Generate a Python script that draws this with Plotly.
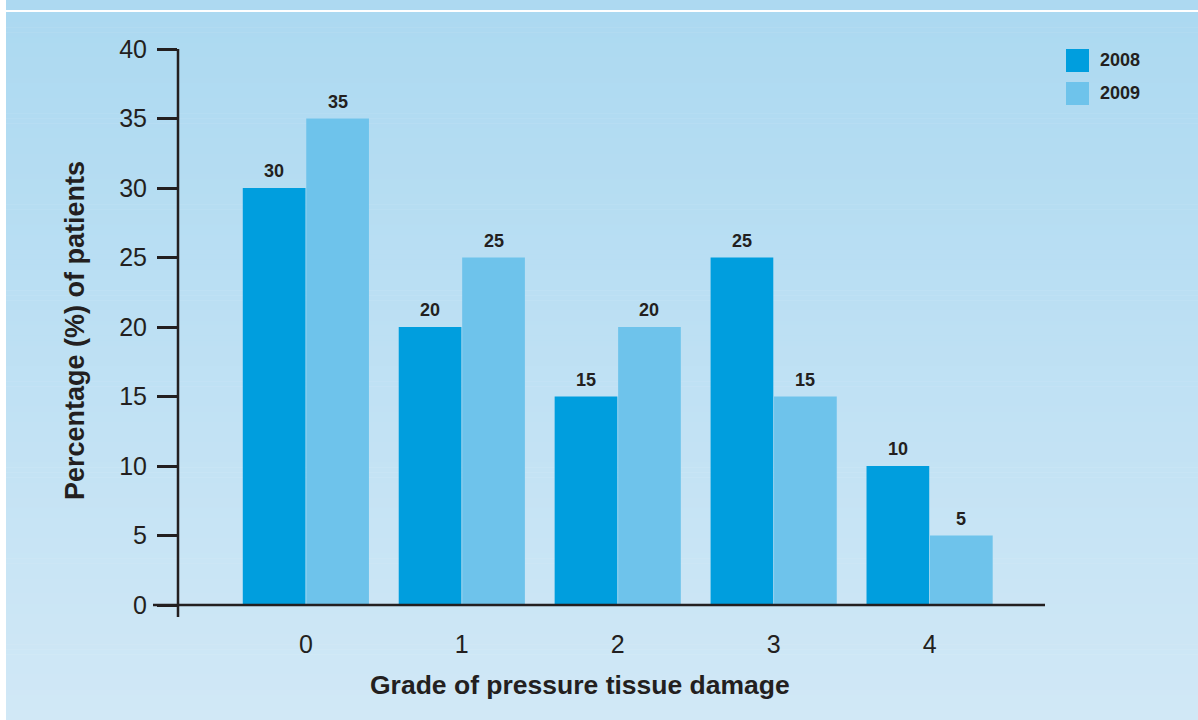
import plotly.graph_objects as go

# Data
grades = [0, 1, 2, 3, 4]
pct_2008 = [30, 20, 15, 25, 10]
pct_2009 = [35, 25, 20, 15, 5]
series_names = ["2008", "2009"]
y_ticks = [0, 5, 10, 15, 20, 25, 30, 35, 40]

# Style
W, H = 1198, 720
L, R, T, B = 178, 153, 49, 115
PW, PH = W - L - R, H - T - B
C2008 = "#009EDE"
C2009 = "#6EC3EB"
INK = "#231F20"
FONT = "Liberation Sans, Arial, Helvetica, sans-serif"
XMIN, XMAX = -0.82, 4.74
BARGAP = 0.186


def px_x(p):
    return (p - L) / PW


def px_y(p):
    return (H - B - p) / PH


fig = go.Figure()
fig.add_trace(go.Bar(x=grades, y=pct_2008, name=series_names[0],
                     marker=dict(color=C2008, line=dict(width=0)),
                     showlegend=False, hoverinfo="skip"))
fig.add_trace(go.Bar(x=grades, y=pct_2009, name=series_names[1],
                     marker=dict(color=C2009, line=dict(width=0)),
                     showlegend=False, hoverinfo="skip"))

shapes = []
# background: white page, top strip, white rule, vertical gradient panel
shapes.append(dict(type="rect", xref="paper", yref="paper", layer="below",
                   x0=px_x(6), x1=px_x(W), y0=px_y(0), y1=px_y(10),
                   fillcolor="#ADD9F1", line=dict(width=0)))
top_rgb = (0xAC, 0xD9, 0xF1)
bot_rgb = (0xD1, 0xE8, 0xF6)
y_start, y_end = 12, H
n_bands = 140
for i in range(n_bands):
    p0 = y_start + (y_end - y_start) * i / n_bands
    p1 = y_start + (y_end - y_start) * (i + 1) / n_bands + 0.6
    t = (i + 0.5) / n_bands
    col = tuple(round(a + (b - a) * t) for a, b in zip(top_rgb, bot_rgb))
    shapes.append(dict(type="rect", xref="paper", yref="paper", layer="below",
                       x0=px_x(6), x1=px_x(W), y0=px_y(min(p1, H)), y1=px_y(p0),
                       fillcolor="rgb(%d,%d,%d)" % col, line=dict(width=0)))

# axis lines crossing at the origin
shapes.append(dict(type="line", xref="paper", yref="paper",
                   x0=px_x(153), x1=1, y0=0, y1=0,
                   line=dict(color=INK, width=2.5)))
shapes.append(dict(type="line", xref="paper", yref="paper",
                   x0=0, x1=0, y0=px_y(617), y1=1,
                   line=dict(color=INK, width=2.5)))

annotations = []
# legend keys
for k, (name, col) in enumerate(zip(series_names, [C2008, C2009])):
    top = 49 + 33 * k
    shapes.append(dict(type="rect", xref="paper", yref="paper",
                       x0=px_x(1066), x1=px_x(1089), y0=px_y(top + 23), y1=px_y(top),
                       fillcolor=col, line=dict(width=0)))
    annotations.append(dict(xref="paper", yref="paper", x=px_x(1098), y=px_y(top + 11.5),
                            text="<b>%s</b>" % name, showarrow=False,
                            xanchor="left", yanchor="middle",
                            font=dict(family=FONT, size=18, color=INK)))

# value labels above bars
half = (1 - BARGAP) / 4
for vals, off in [(pct_2008, -half), (pct_2009, half)]:
    for g, v in zip(grades, vals):
        annotations.append(dict(x=g + off, y=v, xref="x", yref="y",
                                text="<b>%d</b>" % v, showarrow=False,
                                yanchor="bottom", yshift=5,
                                font=dict(family=FONT, size=18, color=INK)))

# axis titles
annotations.append(dict(xref="paper", yref="paper", x=px_x(580), y=px_y(685),
                        text="<b>Grade of pressure tissue damage</b>", showarrow=False,
                        xanchor="center", yanchor="middle",
                        font=dict(family=FONT, size=26.5, color=INK)))
annotations.append(dict(xref="paper", yref="paper", x=px_x(75), y=px_y(331),
                        text="<b>Percentage (%) of patients</b>", showarrow=False,
                        textangle=-90, xanchor="center", yanchor="middle",
                        font=dict(family=FONT, size=27, color=INK)))

fig.update_layout(
    width=W, height=H,
    margin=dict(l=L, r=R, t=T, b=B, pad=0),
    paper_bgcolor="white",
    plot_bgcolor="rgba(0,0,0,0)",
    barmode="group", bargap=BARGAP, bargroupgap=0.012,
    shapes=shapes, annotations=annotations,
    xaxis=dict(range=[XMIN, XMAX], tickvals=grades, ticktext=[str(g) for g in grades],
               showline=False, showgrid=False, zeroline=False, ticks="",
               ticklabelstandoff=22,
               tickfont=dict(family=FONT, size=25, color=INK)),
    yaxis=dict(range=[0, 40], tickvals=y_ticks, showline=False, showgrid=False,
               zeroline=False, ticks="outside", ticklen=20, tickwidth=2.5,
               tickcolor=INK, ticklabelstandoff=5,
               tickfont=dict(family=FONT, size=25, color=INK)),
)

fig.write_html("out.html")
